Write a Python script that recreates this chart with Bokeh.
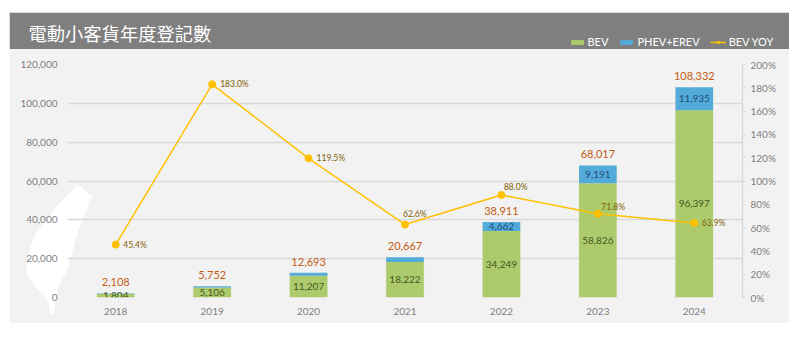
from bokeh.embed import file_html
from bokeh.resources import INLINE
from bokeh.plotting import figure
from bokeh.layouts import column
from bokeh.models import (ColumnDataSource, FactorRange, Range1d, LinearAxis, FixedTicker,
                          NumeralTickFormatter, PrintfTickFormatter, Label, Legend, LegendItem)
from bokeh.core.properties import value

years = ["2018", "2019", "2020", "2021", "2022", "2023", "2024"]
bev = [1804, 5106, 11207, 18222, 34249, 58826, 96397]
total = [2108, 5752, 12693, 20667, 38911, 68017, 108332]
phev = [t - b for t, b in zip(total, bev)]
yoy = [45.4, 183.0, 119.5, 62.6, 88.0, 71.8, 63.9]
title_text = "電動小客貨年度登記數"
left_ticks = [0, 20000, 40000, 60000, 80000, 100000, 120000]
right_ticks = [0, 20, 40, 60, 80, 100, 120, 140, 160, 180, 200]

FONT = "Lato"
GREY = "#7f7f7f"
GRID = "#d9d9d9"
W, H = 780, 311
GREEN, BLUE, GOLD = "#adcb6d", "#53abd9", "#ffc000"

# ---- backdrop figure: panel, header band, island silhouette, title, legend (pixel scales) ----
bg = figure(width=W, height=H, x_range=Range1d(0, W), y_range=Range1d(H, 0), output_backend="svg",
            toolbar_location=None, x_axis_location=None, y_axis_location=None, min_border=0,
            border_fill_color="#f2f2f2", background_fill_color="#f2f2f2", outline_line_color=None)
bg.frame_align = False
bg.grid.visible = False
bg.margin = (12, 0, 0, 9)
bg.quad(left=[0], right=[W], top=[0], bottom=[36.5], fill_color="#7f7f7f", line_color=None)
isl = [(185,30),(198,32),(212,52),(233,62),(222,75),(215,100),(205,125),(190,160),(178,200),(168,240),
       (155,285),(135,320),(125,345),(122,375),(118,400),(113,418),(102,415),(100,385),(85,358),(60,335),
       (45,310),(30,288),(40,250),(45,210),(65,165),(100,125),(130,85),(160,55),(175,40)]
bg.patch([6 + a / 3 for a, b in isl], [163 + b / 3 for a, b in isl], fill_color="#ffffff", line_color=None)
bg.add_layout(Label(x=19, y=20.5, text=title_text, text_font="Noto Sans CJK TC", text_font_size="18.3px",
                    text_color="#ffffff", text_baseline="middle", text_align="left"))
# legend keys: real glyph renderers whose only points lie off the backdrop's scales
off = [-50, -40]
k1 = bg.vbar(x=off, top=off, bottom=off, width=1, fill_color=GREEN, line_color=None)
k2 = bg.vbar(x=off, top=off, bottom=off, width=1, fill_color=BLUE, line_color=None)
k3 = bg.line(x=off, y=off, line_color=GOLD, line_width=1.5)
k4 = bg.scatter(x=off, y=off, size=7, fill_color=GOLD, line_color=GOLD)
leg = Legend(items=[LegendItem(label=value("BEV"), renderers=[k1]),
                    LegendItem(label=value("PHEV+EREV"), renderers=[k2]),
                    LegendItem(label=value("BEV YOY"), renderers=[k3, k4])],
             orientation="horizontal", location=(559.5, 275), background_fill_alpha=0, border_line_color=None,
             glyph_width=16, glyph_height=6, label_standoff=3, spacing=10, margin=0, padding=0,
             label_text_color="#ffffff", label_text_font=FONT, label_text_font_size="11px", label_height=10)
bg.add_layout(leg, "center")

# ---- chart, transparent, on top of the backdrop ----
p = figure(width=W, height=H, x_range=FactorRange(factors=years, range_padding=0, factor_padding=0),
           y_range=Range1d(0, 120000), output_backend="svg", toolbar_location=None,
           min_border_left=58, min_border_right=47, min_border_top=52, min_border_bottom=26,
           border_fill_color=None, background_fill_color=None, outline_line_color=None)
p.frame_align = False
p.margin = (-H, 0, 0, 9)
p.extra_y_ranges = {"pct": Range1d(0, 200)}

p.yaxis.ticker = FixedTicker(ticks=left_ticks)
p.yaxis.formatter = NumeralTickFormatter(format="0,0")
p.yaxis.axis_line_color = None
p.yaxis.major_tick_line_color = None
p.yaxis.major_tick_out = 0
p.yaxis.minor_tick_line_color = None
p.yaxis.major_label_standoff = 10
p.xaxis.axis_line_color = None
p.xaxis.major_tick_line_color = None
p.xaxis.major_tick_out = 0
p.xaxis.major_label_standoff = 10
ra = LinearAxis(y_range_name="pct", ticker=FixedTicker(ticks=right_ticks),
                formatter=PrintfTickFormatter(format="%d%%"))
ra.axis_line_color = GRID
ra.axis_line_width = 1.5
ra.major_tick_line_color = GRID
ra.major_tick_in = 0
ra.major_tick_out = 3
ra.minor_tick_line_color = None
ra.major_label_standoff = 5
p.add_layout(ra, "right")
for ax in (p.xaxis[0], p.yaxis[0], ra):
    ax.major_label_text_font = FONT
    ax.major_label_text_font_size = "10px"
    ax.major_label_text_color = GREY
p.xgrid.visible = False
p.ygrid.ticker = FixedTicker(ticks=left_ticks)
p.ygrid.grid_line_color = GRID
p.ygrid.grid_line_width = 1.5

src = ColumnDataSource(dict(
    year=years, bev=bev, phev=phev, total=total, yoy=yoy,
    bev_mid=[b / 2 for b in bev],
    phev_mid=[b + h / 2 for b, h in zip(bev, phev)],
    bev_txt=[f"{v:,}" for v in bev],
    phev_txt=[f"{v:,}" if v > 4000 else "" for v in phev],
    total_txt=[f"{v:,}" for v in total],
    yoy_txt=[f"{v:.1f}%" for v in yoy],
    yoy_dx=[7.5, 8, 8, -2, 2.5, 3.5, 7.5],
    yoy_dy=[0, 0, 0, -11, -8, -7, 0],
))

p.vbar("year", top="total", width=0.4, source=src, fill_color="#e6ebe2", line_color=None)
p.vbar_stack(["bev", "phev"], x="year", width=0.39, source=src, fill_color=[GREEN, BLUE], line_color=None)
p.line("year", "yoy", source=src, y_range_name="pct", line_color=GOLD, line_width=1.5)
p.scatter("year", "yoy", source=src, y_range_name="pct", size=7, fill_color=GOLD, line_color=GOLD)

p.text("year", "bev_mid", text="bev_txt", source=src, text_align="center", text_baseline="middle",
       text_font=value(FONT), text_font_size="10px", text_color="#46591f")
p.text("year", "phev_mid", text="phev_txt", source=src, text_align="center", text_baseline="middle",
       text_font=value(FONT), text_font_size="10px", text_color="#1f4e79")
p.text("year", "total", text="total_txt", source=src, text_align="center", text_baseline="middle", y_offset=-11,
       text_font=value(FONT), text_font_size="11px", text_color="#c55a11")
p.text("year", "yoy", text="yoy_txt", source=src, y_range_name="pct", text_align="left", text_baseline="middle",
       x_offset="yoy_dx", y_offset="yoy_dy",
       text_font=value(FONT), text_font_size="8.5px", text_color="#7f6000")

page = column(bg, p, spacing=0)
open("out.html", "w").write(file_html(page, INLINE))
